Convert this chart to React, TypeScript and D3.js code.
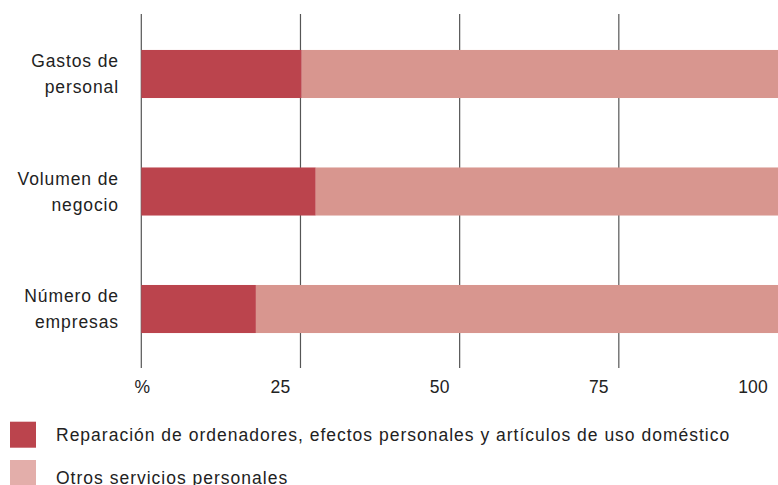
import React from "react";
import * as d3 from "d3";

const categories = [["Gastos de", "personal"], ["Volumen de", "negocio"], ["Número de", "empresas"]];
const reparacion = [25.2, 27.4, 18.0];
const otros = [74.8, 72.6, 82.0];
const seriesNames = [
  "Reparación de ordenadores, efectos personales y artículos de uso doméstico",
  "Otros servicios personales",
];
const tickValues = [0, 25, 50, 75, 100];
const tickLabels = ["%", "25", "50", "75", "100"];

const barColors = ["#bb444d", "#d8968f"];
const legendColors = ["#bb444d", "#e3aeaa"];
const font = "'Liberation Sans', Arial, sans-serif";
const textColor = "#222";

export default function App() {
  const W = 778, H = 485;
  const x = d3.scaleLinear().domain([0, 100]).range([141.3, 778]);
  const y = d3.scaleBand<number>().domain([0, 1, 2]).range([14, 369]).paddingInner(0.591).paddingOuter(0.306);
  const bw = y.bandwidth();
  return (
    <svg width={W} height={H} style={{ position: "absolute", left: 0, top: 0, fontFamily: font }}>
      {tickValues.slice(0, 4).map((v) => (
        <line key={v} x1={x(v)} x2={x(v)} y1={14} y2={368} stroke="#555" strokeWidth={1.2} />
      ))}
      {categories.map((c, i) => (
        <g key={i}>
          <rect x={x(0)} y={y(i)} width={x(reparacion[i]) - x(0)} height={bw} fill={barColors[0]} />
          <rect x={x(reparacion[i])} y={y(i)} width={x(reparacion[i] + otros[i]) - x(reparacion[i])} height={bw} fill={barColors[1]} />
          {c.map((t, j) => (
            <text key={j} x={119} y={y(i)! + bw / 2 - 7 + j * 26} textAnchor="end" fontSize={17.5} letterSpacing={0.9} fill={textColor}>{t}</text>
          ))}
        </g>
      ))}
      {tickValues.map((v, i) => (
        <text key={v} x={i === 0 ? x(v) + 1 : x(v) - 10} y={392.5} textAnchor={i === 0 ? "middle" : "end"} fontSize={17.5} letterSpacing={0.2} fill={textColor}>{tickLabels[i]}</text>
      ))}
      {seriesNames.map((s, i) => (
        <g key={i}>
          <rect x={10} y={421.7 + i * 38.3} width={26} height={26} fill={legendColors[i]} />
          <text x={56} y={440.7 + i * 43.3} fontSize={17.5} letterSpacing={1.0} fill={textColor}>{s}</text>
        </g>
      ))}
    </svg>
  );
}
